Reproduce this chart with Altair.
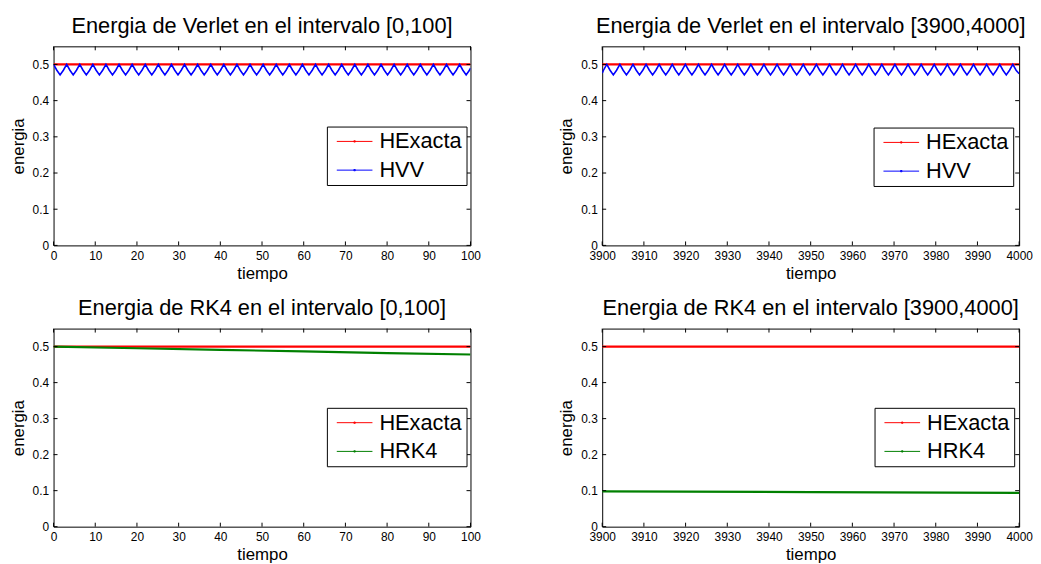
import math
import pandas as pd
import altair as alt

FONT = "Liberation Sans"

# ---- axis ticks ----
X_TICKS_A = [0, 10, 20, 30, 40, 50, 60, 70, 80, 90, 100]
X_TICKS_B = [3900, 3910, 3920, 3930, 3940, 3950, 3960, 3970, 3980, 3990, 4000]
Y_TICKS = [0, 0.1, 0.2, 0.3, 0.4, 0.5]

# ---- exact energy (constant) ----
EXACT_A_T = [0, 100]
EXACT_A_E = [0.5, 0.5]
EXACT_B_T = [3900, 4000]
EXACT_B_E = [0.5, 0.5]

# ---- Verlet energy, sampled every quarter of its oscillation ----
VV_A_T = [round(k * math.pi / 4, 4) for k in range(128)] + [100.0]
VV_A_E = [
    0.5, 0.484, 0.471, 0.484, 0.5, 0.484, 0.471, 0.484,
    0.5, 0.484, 0.471, 0.484, 0.5, 0.484, 0.471, 0.484,
    0.5, 0.484, 0.471, 0.484, 0.5, 0.484, 0.471, 0.484,
    0.5, 0.484, 0.471, 0.484, 0.5, 0.484, 0.471, 0.484,
    0.5, 0.484, 0.471, 0.484, 0.5, 0.484, 0.471, 0.484,
    0.5, 0.484, 0.471, 0.484, 0.5, 0.484, 0.471, 0.484,
    0.5, 0.484, 0.471, 0.484, 0.5, 0.484, 0.471, 0.484,
    0.5, 0.484, 0.471, 0.484, 0.5, 0.484, 0.471, 0.484,
    0.5, 0.484, 0.471, 0.484, 0.5, 0.484, 0.471, 0.484,
    0.5, 0.484, 0.471, 0.484, 0.5, 0.484, 0.471, 0.484,
    0.5, 0.484, 0.471, 0.484, 0.5, 0.484, 0.471, 0.484,
    0.5, 0.484, 0.471, 0.484, 0.5, 0.484, 0.471, 0.484,
    0.5, 0.484, 0.471, 0.484, 0.5, 0.484, 0.471, 0.484,
    0.5, 0.484, 0.471, 0.484, 0.5, 0.484, 0.471, 0.484,
    0.5, 0.484, 0.471, 0.484, 0.5, 0.484, 0.471, 0.484,
    0.5, 0.484, 0.471, 0.484, 0.5, 0.484, 0.471, 0.484,
    0.49,
]

VV_B_T = [3900.0] + [round(3900.31 + k * math.pi / 4, 4) for k in range(127)] + [4000.0]
VV_B_E = [
    0.476,
    0.484, 0.5, 0.484, 0.471, 0.484, 0.5, 0.484, 0.471,
    0.484, 0.5, 0.484, 0.471, 0.484, 0.5, 0.484, 0.471,
    0.484, 0.5, 0.484, 0.471, 0.484, 0.5, 0.484, 0.471,
    0.484, 0.5, 0.484, 0.471, 0.484, 0.5, 0.484, 0.471,
    0.484, 0.5, 0.484, 0.471, 0.484, 0.5, 0.484, 0.471,
    0.484, 0.5, 0.484, 0.471, 0.484, 0.5, 0.484, 0.471,
    0.484, 0.5, 0.484, 0.471, 0.484, 0.5, 0.484, 0.471,
    0.484, 0.5, 0.484, 0.471, 0.484, 0.5, 0.484, 0.471,
    0.484, 0.5, 0.484, 0.471, 0.484, 0.5, 0.484, 0.471,
    0.484, 0.5, 0.484, 0.471, 0.484, 0.5, 0.484, 0.471,
    0.484, 0.5, 0.484, 0.471, 0.484, 0.5, 0.484, 0.471,
    0.484, 0.5, 0.484, 0.471, 0.484, 0.5, 0.484, 0.471,
    0.484, 0.5, 0.484, 0.471, 0.484, 0.5, 0.484, 0.471,
    0.484, 0.5, 0.484, 0.471, 0.484, 0.5, 0.484, 0.471,
    0.484, 0.5, 0.484, 0.471, 0.484, 0.5, 0.484, 0.471,
    0.484, 0.5, 0.484, 0.471,
    0.484, 0.5, 0.484,
    0.474,
]

# ---- RK4 energy ----
RK_A_T = [0, 20, 40, 60, 80, 100]
RK_A_E = [0.5, 0.4955, 0.491, 0.4865, 0.482, 0.478]
RK_B_T = [3900, 3950, 4000]
RK_B_E = [0.098, 0.096, 0.094]

RED = "#ff0000"
BLUE = "#0000ff"
GREEN = "#008000"

# legend symbol: a 36px line with a small dot in its middle
LEGEND_SYMBOL = "M-0.556,0L3.444,0M1.36,-0.07L1.52,-0.07L1.52,0.07L1.36,0.07Z"


def panel(title, xdom, xticks, series, colors, widths, h, lx, ly, w=421):
    names = [s[0] for s in series]
    x = alt.X(
        "t:Q",
        scale=alt.Scale(domain=xdom, nice=False, zero=False),
        axis=alt.Axis(values=xticks, format="d", title="tiempo"),
    )
    y = alt.Y(
        "e:Q",
        scale=alt.Scale(domain=[0, 0.55], nice=False, zero=False),
        axis=alt.Axis(values=Y_TICKS, format=".1~f", title="energia"),
    )
    color = alt.Color(
        "serie:N",
        scale=alt.Scale(domain=names, range=colors),
        legend=alt.Legend(
            orient="none",
            legendX=lx,
            legendY=ly,
            title=None,
            strokeColor="black",
            fillColor="white",
            padding=4,
            labelFontSize=22,
            labelFont=FONT,
            labelColor="black",
            symbolType=LEGEND_SYMBOL,
            symbolSize=324,
            symbolStrokeWidth=1.0,
            rowPadding=7,
            labelOffset=27,
            cornerRadius=0,
        ),
    )
    layers = []
    for (n, t, e), sw in zip(series, widths):
        df = pd.DataFrame({"t": t, "e": e, "serie": n})
        layers.append(
            alt.Chart(df).mark_line(clip=True, strokeWidth=sw).encode(x=x, y=y, color=color)
        )
    xt = pd.DataFrame({"t": xticks})
    yt = pd.DataFrame({"e": Y_TICKS})
    tb = alt.Chart(xt).mark_rule(color="black", strokeWidth=1).encode(
        x=x, y=alt.value(h), y2=alt.value(h - 4)
    )
    tt = alt.Chart(xt).mark_rule(color="black", strokeWidth=1).encode(
        x=x, y=alt.value(0), y2=alt.value(4)
    )
    tl = alt.Chart(yt).mark_rule(color="black", strokeWidth=1).encode(
        y=y, x=alt.value(0), x2=alt.value(4)
    )
    tr = alt.Chart(yt).mark_rule(color="black", strokeWidth=1).encode(
        y=y, x=alt.value(w - 4), x2=alt.value(w)
    )
    return alt.layer(*layers, tb, tt, tl, tr).properties(
        width=w,
        height=h,
        title=alt.TitleParams(
            text=title,
            fontSize=22,
            font=FONT,
            fontWeight="normal",
            color="black",
            anchor="middle",
            offset=8,
        ),
    )


p1 = panel(
    "Energia de Verlet en el intervalo [0,100]",
    [0, 100], X_TICKS_A,
    [("HExacta", EXACT_A_T, EXACT_A_E), ("HVV", VV_A_T, VV_A_E)],
    [RED, BLUE], [2.2, 1.6], 201, 276, 81,
)
p2 = panel(
    "Energia de Verlet en el intervalo [3900,4000]",
    [3900, 4000], X_TICKS_B,
    [("HExacta", EXACT_B_T, EXACT_B_E), ("HVV", VV_B_T, VV_B_E)],
    [RED, BLUE], [2.2, 1.6], 201, 274, 82,
)
p3 = panel(
    "Energia de RK4 en el intervalo [0,100]",
    [0, 100], X_TICKS_A,
    [("HExacta", EXACT_A_T, EXACT_A_E), ("HRK4", RK_A_T, RK_A_E)],
    [RED, GREEN], [2.2, 2.2], 200, 276, 80,
)
p4 = panel(
    "Energia de RK4 en el intervalo [3900,4000]",
    [3900, 4000], X_TICKS_B,
    [("HExacta", EXACT_B_T, EXACT_B_E), ("HRK4", RK_B_T, RK_B_E)],
    [RED, GREEN], [2.2, 2.2], 200, 275, 80,
)

chart = (
    alt.concat(p1, p2, p3, p4, columns=2, spacing={"row": 84, "column": 133}, bounds="flush")
    .resolve_scale(color="independent", x="independent", y="independent")
    .properties(padding={"left": 0, "top": 4, "right": 0, "bottom": 0})
    .configure_view(stroke="black", strokeWidth=1)
    .configure_axis(
        domain=False,
        ticks=False,
        grid=False,
        labelFlush=False,
        labelFont=FONT,
        labelFontSize=12,
        labelColor="black",
        titleFont=FONT,
        titleFontSize=17,
        titleFontWeight="normal",
        titleColor="black",
    )
    .configure_axisX(labelPadding=5, titlePadding=4)
    .configure_axisY(labelPadding=5, titlePadding=5)
)

chart.save("out.html", embed_options={"renderer": "svg", "actions": False})
